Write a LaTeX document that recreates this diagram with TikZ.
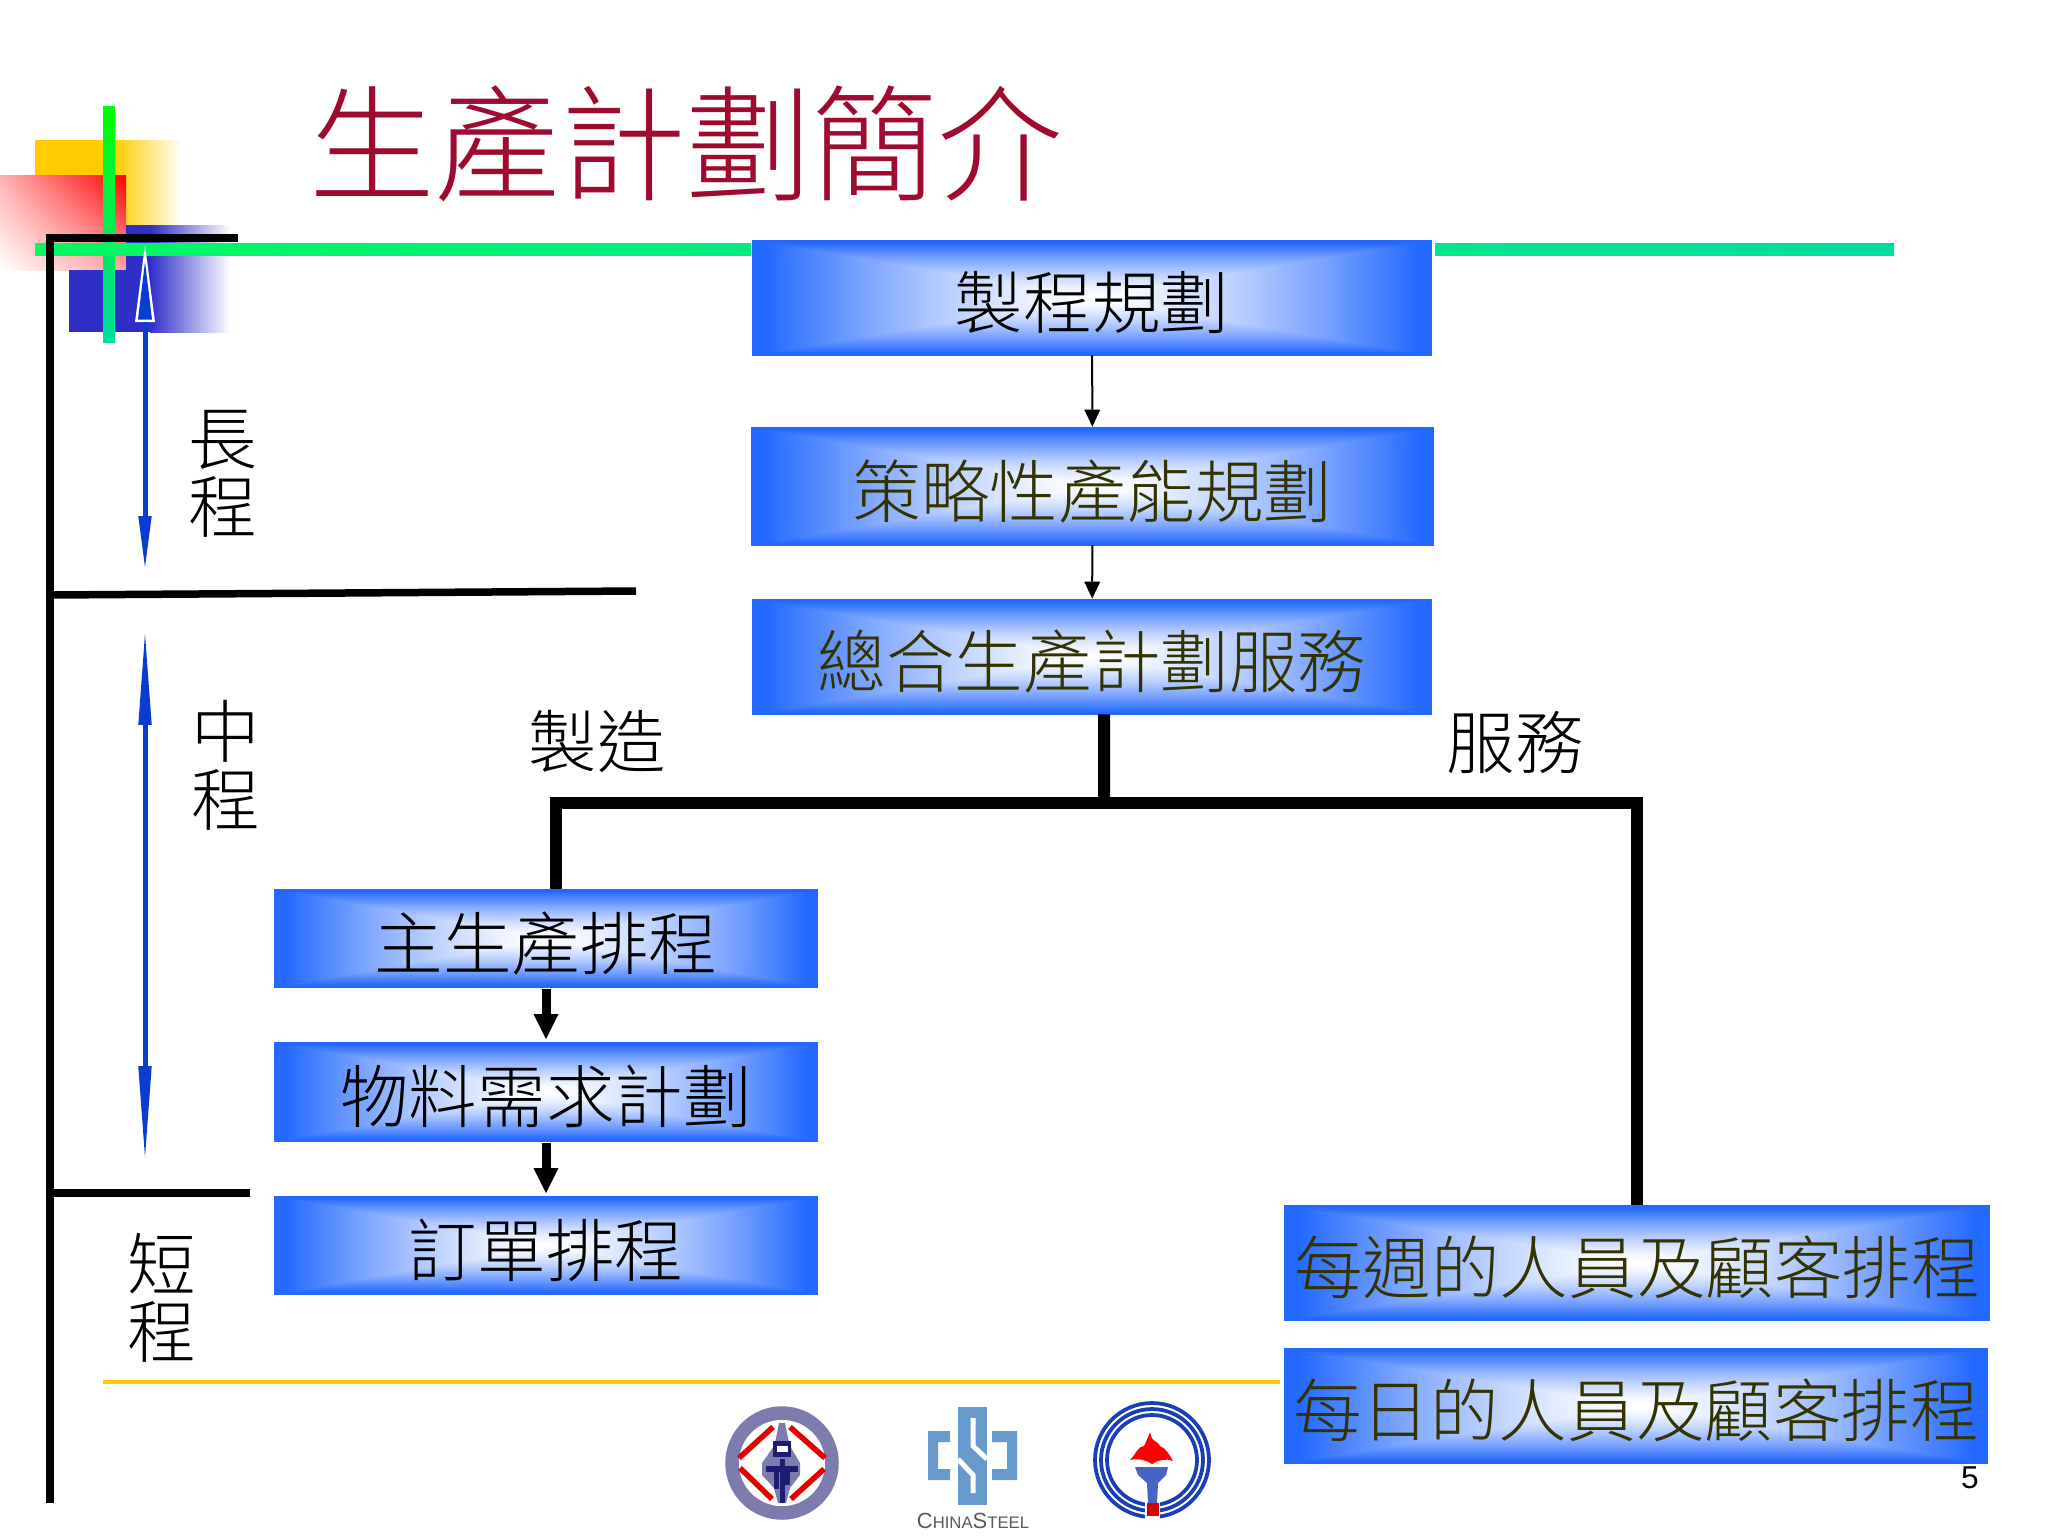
\documentclass[tikz,border=0pt]{standalone}
\usepackage{fontspec}
\usetikzlibrary{arrows.meta,shadings}
\newfontfamily\cjk{Noto Sans CJK TC Light}
\newfontfamily\latinsans{Liberation Sans}
\definecolor{planink}{HTML}{333300}
\definecolor{titlered}{HTML}{9E0B2F}
\definecolor{ruleyellow}{HTML}{FFCC00}
\definecolor{decoblue}{HTML}{2F2FC8}
\definecolor{arrowblue}{HTML}{0A3CD2}
\definecolor{sealgrey}{HTML}{7C7CAE}
\definecolor{sealnavy}{HTML}{1C1C70}
\definecolor{steelblue}{HTML}{6699CC}
\definecolor{torchblue}{HTML}{1A3FB4}
\definecolor{ruleA}{HTML}{00FA60}
\definecolor{ruleB}{HTML}{00EA80}
\definecolor{ruleC}{HTML}{00E68C}
\definecolor{ruleD}{HTML}{00DCA0}
\pgfdeclarefunctionalshading{boxblue}{\pgfpointorigin}{\pgfpoint{100bp}{100bp}}{}{
  50 sub abs 24 div exch 50 sub abs 24 div
  2 copy lt {exch} if pop
  dup 1 gt {pop 1} if
  1.4 exp
  dup 0.86 mul 1 exch sub exch
  0.59 mul 1 exch sub
  1.0
}
\tikzset{
  planbox/.style={rectangle,shade,shading=boxblue,inner sep=0pt,text=planink,
    text height=1.4cm,text depth=.15cm,font=\cjk\fontsize{39}{39}\selectfont},
  sidelabel/.style={align=center,inner sep=0pt,font=\cjk\fontsize{39}{38.5}\selectfont},
  thinarrow/.style={-{Triangle[length=.34cm,width=.32cm,line width=0pt]},line width=.04cm},
  thickarrow/.style={-{Triangle[length=.5cm,width=.5cm,line width=0pt]},line width=.18cm,shorten <=.04cm,shorten >=.05cm},
  trunk/.style={line width=.24cm,line cap=butt,line join=miter},
  spanline/.style={draw=arrowblue,line width=.1cm},
  blackrule/.style={line width=.15cm,line cap=butt}
}
\begin{document}
\begin{tikzpicture}[x=.02cm,y=-.02cm]
\useasboundingbox (0,0) rectangle (2048,1536);
% corner decoration
\fill[ruleyellow] (35,140) rectangle (115,225);
\shade[left color=ruleyellow,right color=white] (115,140) rectangle (182,225);
\shade[upper right=red,upper left=red!30,lower right=red!35,lower left=white] (0,175) rectangle (126,270);
\fill[decoblue] (69,270) rectangle (150,332);
\fill[decoblue] (126,225) rectangle (150,270);
\shade[left color=decoblue,right color=white] (150,225) rectangle (230,332);
\shade[top color=green,bottom color=ruleD] (103,106) rectangle (115,342);
\shade[left color=ruleA,right color=ruleB] (35,243) rectangle (751,255);
\shade[left color=ruleC,right color=ruleD] (1435,243) rectangle (1894,255);
% title
\node[font=\cjk\fontsize{71.5}{71.5}\selectfont,text=titlered,inner sep=0pt] (title) at (686,144) {生產計劃簡介};
% page number
\node[font=\latinsans\fontsize{18}{18}\selectfont,inner sep=0pt] (pagenum) at (1970,1478) {5};
% time axis
\coordinate (axistop) at (50,238);
\coordinate (axisend) at (50,1503);
\coordinate (axisright) at (238,238);
\draw[blackrule] (axisright) -- (axistop) -- (axisend);
\coordinate (longleft) at (50,595);
\coordinate (longright) at (636,591);
\draw[blackrule] (longleft) -- (longright);
\coordinate (midleft) at (50,1193);
\coordinate (midright) at (250,1193);
\draw[blackrule] (midleft) -- (midright);
\coordinate (footleft) at (103,1382);
\coordinate (footright) at (1280,1382);
\draw[ruleyellow,line width=.08cm] (footleft) -- (footright);
% long range arrow
\coordinate (longtop) at (145,245);
\coordinate (longbase) at (145,322);
\coordinate (longend) at (145,567);
\fill[white] (longtop) -- (155,322) -- (135,322) -- cycle;
\fill[arrowblue] (145,262) -- (152,319.5) -- (138,319.5) -- cycle;
\draw[spanline,-{Triangle[length=1.02cm,width=.27cm,line width=0pt,arrowblue]}] (longbase) -- (longend);
% mid range arrow
\coordinate (midtop) at (145,634);
\coordinate (midend) at (145,1157);
\draw[spanline,{Triangle[length=1.82cm,width=.27cm,line width=0pt,arrowblue]}-{Triangle[length=1.82cm,width=.27cm,line width=0pt,arrowblue]}] (midtop) -- (midend);
\node[sidelabel] (longlabel) at (223,474) {長\\程};
\node[sidelabel] (midlabel) at (226,765) {中\\程};
\node[sidelabel] (shortlabel) at (162,1298) {短\\程};
\node[sidelabel] (makelabel) at (597,742) {製造};
\node[sidelabel] (servlabel) at (1515,742) {服務};
% plan boxes
\node[planbox,text=black,minimum width=13.6cm,minimum height=2.3cm] (process) at (1092,297.5) {製程規劃};
\node[planbox,minimum width=13.66cm,minimum height=2.36cm] (capacity) at (1092.5,486) {策略性產能規劃};
\node[planbox,minimum width=13.6cm,minimum height=2.3cm] (aggregate) at (1092,656.5) {總合生產計劃服務};
\node[planbox,text=black,minimum width=10.88cm,minimum height=1.96cm] (master) at (546,938) {主生產排程};
\node[planbox,text=black,minimum width=10.88cm,minimum height=1.98cm] (material) at (546,1091.5) {物料需求計劃};
\node[planbox,text=black,minimum width=10.88cm,minimum height=1.96cm] (orders) at (546,1245) {訂單排程};
\node[planbox,minimum width=14.12cm,minimum height=2.3cm] (weekly) at (1637,1262.5) {每週的人員及顧客排程};
\node[planbox,minimum width=14.08cm,minimum height=2.3cm] (daily) at (1636,1405.5) {每日的人員及顧客排程};
% connectors
\draw[thinarrow] (process) -- (capacity);
\draw[thinarrow] (capacity) -- (aggregate);
\coordinate (split) at (1104,803);
\draw[trunk] ([xshift=.24cm]aggregate.south) -- (split);
\draw[trunk] (split) -| ([xshift=.2cm]master.north);
\draw[trunk] (split) -| (weekly.north);
\draw[thickarrow] (master) -- (material);
\draw[thickarrow] (material) -- (orders);
% seal, left
\begin{scope}[shift={(782,1463)}]
\draw[sealgrey,line width=.27cm] (0,0) circle (50);
\draw[red!90!black,line width=.11cm] (-43,-5) -- (-9,-36);
\draw[red!90!black,line width=.11cm] (43,-5) -- (8,-36);
\draw[red!90!black,line width=.11cm] (-42,5) -- (-10,36);
\draw[red!90!black,line width=.11cm] (42,6) -- (9,36);
\fill[sealgrey] (-3,-40) -- (3,-40) -- (6,-25) -- (8,-17) -- (18,0) -- (18,12) -- (8,25) -- (4,40) -- (-4,40) -- (-8,25) -- (-20,12) -- (-20,0) -- (-8,-17) -- (-6,-25) -- cycle;
\fill[sealnavy] (-9,-22) rectangle (9,-6);
\fill[white] (-5,-17) rectangle (6,-11);
\fill[sealnavy] (-16,3) rectangle (16,9);
\fill[sealnavy] (-8,9) rectangle (-3,26);
\fill[sealnavy] (3,9) rectangle (8,22);
\fill[sealnavy] (-2,-4) rectangle (3,40);
\end{scope}
% steel mark
\fill[steelblue] (958,1407) rectangle (987,1505);
\fill[steelblue] (928,1431) -| (950,1442) -| (938,1469) -| (950,1480) -| cycle;
\fill[steelblue] (1017,1431) -| (992,1442) -| (1007,1469) -| (992,1480) -| cycle;
\draw[white,line width=.1cm] (973,1418) -- (973,1446) -- (987,1459);
\draw[white,line width=.1cm] (958,1459) -- (973,1475) -- (973,1493);
\node[font=\latinsans\fontsize{12.5}{12.5}\selectfont,text=black!65,inner sep=0pt] (steelname) at (973,1521) {C{\fontsize{9.5}{9.5}\selectfont HINA}S{\fontsize{9.5}{9.5}\selectfont TEEL}};
% torch mark, right
\begin{scope}[shift={(1152,1460)}]
\foreach \ringr in {57,51,45} \draw[torchblue,line width=.075cm] (0,0) circle (\ringr);
\fill[white] (-7,38) rectangle (8,60);
\fill[red] (-2,-28) .. controls (0,-16) and (6,-20) .. (8,-14) .. controls (14,-12) and (18,-4) .. (21,1) .. controls (14,-2) and (6,0) .. (0,4) .. controls (-6,0) and (-14,-2) .. (-22,0) .. controls (-16,-6) and (-14,-14) .. (-8,-14) .. controls (-6,-18) and (-4,-22) .. (-2,-28) -- cycle;
\fill[torchblue!80!white] (-17,7) -- (16,7) -- (14,15) -- (6,23) -- (5,43) -- (-4,43) -- (-5,23) -- (-14,15) -- cycle;
\fill[red!85!black] (-5,43) rectangle (7,56);
\end{scope}
\end{tikzpicture}
\end{document}
